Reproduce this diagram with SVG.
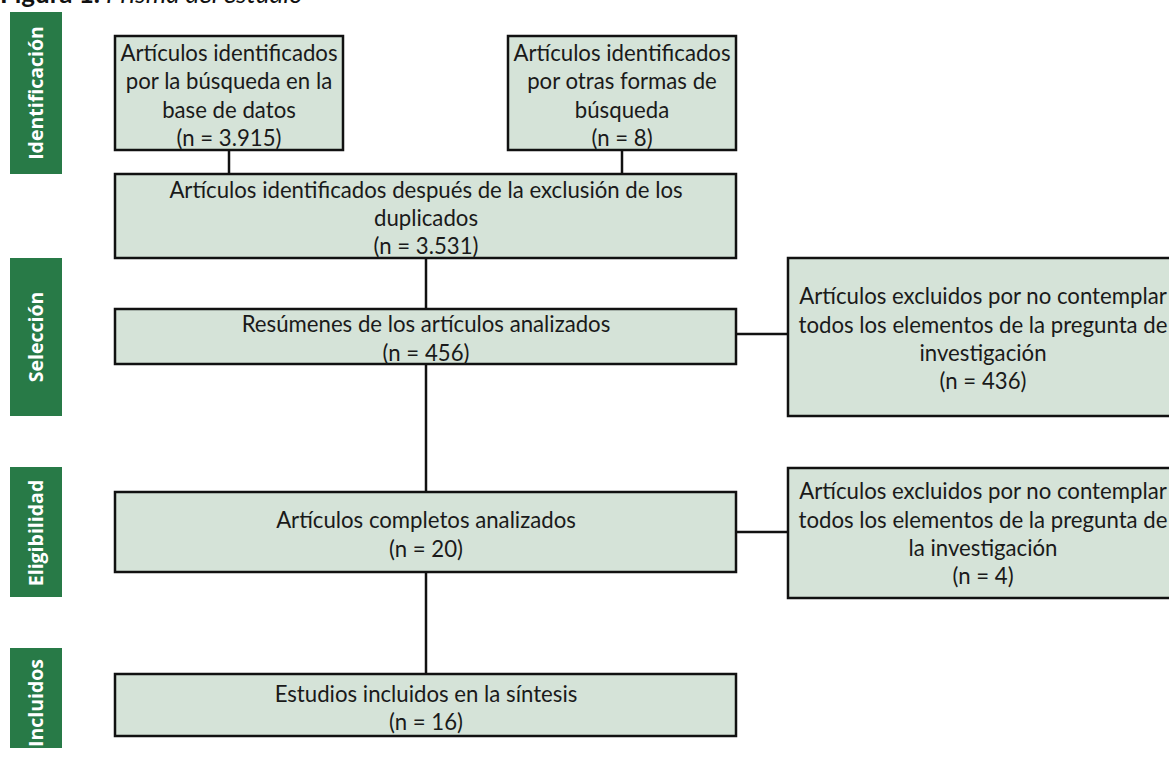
<svg xmlns="http://www.w3.org/2000/svg" width="1169" height="757" viewBox="0 0 1169 757">
<style>
.bg{fill:#ffffff}
.box{fill:#d5e3d8;stroke:#111111;stroke-width:2.5}
.bar{fill:#287a47}
.t{font-family:Lato,"Liberation Sans",sans-serif;font-size:22.2px;fill:#1a1a1a;text-anchor:middle}
.lbl{font-family:"Open Sans","Liberation Sans",sans-serif;font-weight:bold;font-size:19.5px;fill:#ffffff;text-anchor:middle}
.title{font-family:Lato,"Liberation Sans",sans-serif;font-size:26px;fill:#111111}
.c{stroke:#111111;stroke-width:2.5;fill:none}
</style>
<rect class="bg" x="0" y="0" width="1169" height="757"/>
<text class="title" x="0" y="3"><tspan font-weight="bold">Figura 1.</tspan><tspan font-style="italic"> Prisma del estudio</tspan></text>

<g id="phase-identificacion"><rect class="bar" x="10" y="12" width="52" height="162"/><text class="lbl" transform="translate(43,93) rotate(-90)">Identificación</text></g>
<g id="phase-seleccion"><rect class="bar" x="10" y="258" width="52" height="158"/><text class="lbl" transform="translate(43,337) rotate(-90)">Selección</text></g>
<g id="phase-eligibilidad"><rect class="bar" x="10" y="467" width="52" height="130"/><text class="lbl" transform="translate(43,533) rotate(-90)">Eligibilidad</text></g>
<g id="phase-incluidos"><rect class="bar" x="10" y="648" width="52" height="100"/><text class="lbl" transform="translate(43,703) rotate(-90)">Incluidos</text></g>

<g id="connectors">
<line class="c" x1="229" y1="150" x2="229" y2="174"/>
<line class="c" x1="622" y1="150" x2="622" y2="174"/>
<line class="c" x1="426" y1="258" x2="426" y2="309"/>
<line class="c" x1="426" y1="364" x2="426" y2="492"/>
<line class="c" x1="426" y1="572" x2="426" y2="674"/>
<line class="c" x1="736" y1="334" x2="788" y2="334"/>
<line class="c" x1="736" y1="532" x2="788" y2="532"/>
</g>

<g id="n1"><rect class="box" x="115" y="36" width="228" height="114"/>
<text class="t" x="229" y="61">Artículos identificados</text>
<text class="t" x="229" y="89">por la búsqueda en la</text>
<text class="t" x="229" y="118">base de datos</text>
<text class="t" x="229" y="146">(n = 3.915)</text></g>

<g id="n2"><rect class="box" x="508" y="36" width="228" height="114"/>
<text class="t" x="622" y="61">Artículos identificados</text>
<text class="t" x="622" y="89">por otras formas de</text>
<text class="t" x="622" y="118">búsqueda</text>
<text class="t" x="622" y="146">(n = 8)</text></g>

<g id="n3"><rect class="box" x="115" y="174" width="621" height="84"/>
<text class="t" x="426" y="198">Artículos identificados después de la exclusión de los</text>
<text class="t" x="426" y="226">duplicados</text>
<text class="t" x="426" y="254">(n = 3.531)</text></g>

<g id="n4"><rect class="box" x="115" y="309" width="621" height="55"/>
<text class="t" x="426" y="332">Resúmenes de los artículos analizados</text>
<text class="t" x="426" y="361">(n = 456)</text></g>

<g id="n5"><rect class="box" x="788" y="258" width="392" height="158"/>
<text class="t" x="983" y="304">Artículos excluidos por no contemplar</text>
<text class="t" x="983" y="333">todos los elementos de la pregunta de</text>
<text class="t" x="983" y="361">investigación</text>
<text class="t" x="983" y="389">(n = 436)</text></g>

<g id="n6"><rect class="box" x="115" y="492" width="621" height="80"/>
<text class="t" x="426" y="528">Artículos completos analizados</text>
<text class="t" x="426" y="557">(n = 20)</text></g>

<g id="n7"><rect class="box" x="788" y="468" width="392" height="130"/>
<text class="t" x="983" y="499">Artículos excluidos por no contemplar</text>
<text class="t" x="983" y="528">todos los elementos de la pregunta de</text>
<text class="t" x="983" y="556">la investigación</text>
<text class="t" x="983" y="584">(n = 4)</text></g>

<g id="n8"><rect class="box" x="115" y="674" width="621" height="62"/>
<text class="t" x="426" y="702">Estudios incluidos en la síntesis</text>
<text class="t" x="426" y="730">(n = 16)</text></g>
</svg>
